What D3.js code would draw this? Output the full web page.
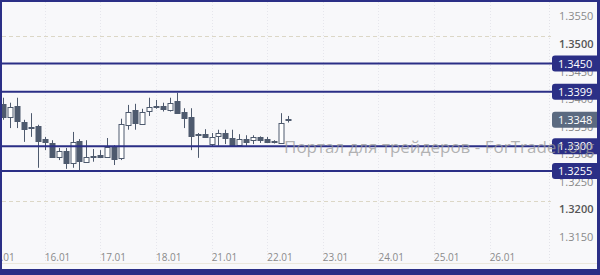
<!DOCTYPE html>
<html>
<head>
<meta charset="utf-8">
<script src="https://cdn.jsdelivr.net/npm/d3@7"></script>
<style>
body { margin: 0; background: #fff; }
svg { display: block; font-family: "Open Sans", sans-serif; }
</style>
</head>
<body>
<svg id="chart" width="600" height="275"></svg>
<script>
// 3h candles, values
const opens  = [1.3377,1.3353,1.3373,1.3344,1.3335,1.3337,1.3313,1.3306,1.3281,1.3291,1.3270,1.3310,1.3272,1.3281,
                1.3284,1.3281,1.3299,1.3278,1.3340,1.3366,1.3342,1.3363,1.3373,1.3373,1.3367,1.3383,1.3362,1.3353,
                1.3322,1.3322,1.3305,1.3318,1.3324,1.3315,1.3302,1.3314,1.3310,1.3316,1.3314,1.3310,1.3306,1.3349];
const highs  = [1.3388,1.3379,1.3388,1.3348,1.3360,1.3339,1.3317,1.3311,1.3297,1.3297,1.3326,1.3313,1.3311,1.3295,
                1.3293,1.3315,1.3302,1.3350,1.3375,1.3377,1.3368,1.3388,1.3384,1.3379,1.3388,1.3397,1.3369,1.3369,
                1.3324,1.3331,1.3324,1.3330,1.3330,1.3330,1.3322,1.3320,1.3320,1.3318,1.3317,1.3311,1.3360,1.3355];
const lows   = [1.3348,1.3333,1.3333,1.3308,1.3317,1.3261,1.3293,1.3279,1.3275,1.3259,1.3261,1.3254,1.3270,1.3272,
                1.3279,1.3279,1.3266,1.3275,1.3330,1.3330,1.3339,1.3355,1.3368,1.3363,1.3363,1.3360,1.3333,1.3293,
                1.3279,1.3315,1.3299,1.3301,1.3304,1.3299,1.3299,1.3301,1.3304,1.3306,1.3306,1.3305,1.3306,1.3343];
const closes = [1.3354,1.3372,1.3346,1.3331,1.3333,1.3310,1.3308,1.3281,1.3291,1.3270,1.3308,1.3274,1.3281,1.3282,
                1.3281,1.3299,1.3278,1.3340,1.3363,1.3343,1.3363,1.3371,1.3371,1.3367,1.3379,1.3361,1.3351,1.3319,
                1.3320,1.3317,1.3317,1.3324,1.3315,1.3301,1.3313,1.3308,1.3316,1.3310,1.3308,1.3308,1.3342,1.3348];

const dayLabels = ["15.01","16.01","17.01","18.01","21.01","22.01","23.01","24.01","25.01","26.01"];
const candlesPerDay = 8;

const levels = [1.3450, 1.3399, 1.3300, 1.3255];
const lastPrice = 1.3348;
const priceTicks = [1.3150, 1.3200, 1.3250, 1.3300, 1.3350, 1.3400, 1.3450, 1.3500, 1.3550];
const majorTicks = [1.3200, 1.3500];
const watermark = "Портал для трейдеров - ForTrader.org";

const W = 600, H = 275;
const plotRight = 549;
const navy = "#2b2f86";
const candleColor = "#4e5a6e";

const svg = d3.select("#chart");

const x = d3.scaleLinear().domain([0, 78]).range([3, 545.1]);
const y = d3.scaleLinear().domain([1.315, 1.355]).range([229, 8.4]);

// фон
svg.append("rect").attr("width", W).attr("height", H).attr("fill", "#f8f8fa");

// vertical grid (faint dotted)
svg.append("g").selectAll("line")
    .data(dayLabels.slice(1))
    .enter().append("line")
    .attr("x1", (d, i) => Math.round(x((i + 1) * candlesPerDay - 2)) + 0.5)
    .attr("x2", (d, i) => Math.round(x((i + 1) * candlesPerDay - 2)) + 0.5)
    .attr("y1", 2).attr("y2", 263)
    .attr("stroke", "#e6e6ec")
    .attr("stroke-dasharray", "1,2");

svg.append("line")
    .attr("x1", plotRight + 0.5).attr("x2", plotRight + 0.5)
    .attr("y1", 2).attr("y2", 263)
    .attr("stroke", "#e2e2e8")
    .attr("stroke-dasharray", "1,2");

// major price grid
svg.append("g").selectAll("line")
    .data(majorTicks)
    .enter().append("line")
    .attr("x1", 2).attr("x2", plotRight + 2)
    .attr("y1", d => Math.round(y(d)) + 0.5)
    .attr("y2", d => Math.round(y(d)) + 0.5)
    .attr("stroke", "#dcd7c6")
    .attr("stroke-dasharray", "4,3");

// bottom line under dates
svg.append("line")
    .attr("x1", 2).attr("x2", W - 3)
    .attr("y1", 263.5).attr("y2", 263.5)
    .attr("stroke", "#ebe7dc");

// price axis labels
svg.append("g").selectAll("text")
    .data(priceTicks)
    .enter().append("text")
    .attr("x", 559)
    .attr("y", d => y(d) + 12)
    .attr("font-size", 11)
    .attr("fill", d => majorTicks.includes(d) ? "#555" : "#8a8a8a")
    .attr("font-weight", d => majorTicks.includes(d) ? 600 : 400)
    .text(d => d.toFixed(4));

// date labels
svg.append("g").selectAll("text")
    .data(dayLabels)
    .enter().append("text")
    .attr("x", (d, i) => x(i * candlesPerDay) - 1)
    .attr("y", 260.5)
    .attr("text-anchor", "middle")
    .attr("font-size", 10)
    .attr("fill", "#8a8a8a")
    .text(d => d);

// candles
const candles = svg.append("g")
    .selectAll("g")
    .data(opens.map((o, i) => ({ i, o, h: highs[i], l: lows[i], c: closes[i] })))
    .enter().append("g");

candles.append("line")
    .attr("x1", d => Math.round(x(d.i)) + 0.5)
    .attr("x2", d => Math.round(x(d.i)) + 0.5)
    .attr("y1", d => y(d.h))
    .attr("y2", d => y(d.l))
    .attr("stroke", candleColor);

candles.append("rect")
    .attr("x", d => Math.round(x(d.i)) - 2)
    .attr("y", d => Math.round(y(Math.max(d.o, d.c))) + 0.5)
    .attr("width", 5)
    .attr("height", d => Math.max(0.5, Math.round(Math.abs(y(d.o) - y(d.c)))))
    .attr("fill", d => d.c > d.o ? "#fff" : candleColor)
    .attr("stroke", candleColor);

// support / resistance levels
svg.append("g").selectAll("line")
    .data(levels)
    .enter().append("line")
    .attr("x1", 0).attr("x2", 553)
    .attr("y1", d => y(d)).attr("y2", d => y(d))
    .attr("stroke", navy)
    .attr("stroke-width", 2);

const levelTag = svg.append("g").selectAll("g")
    .data(levels)
    .enter().append("g")
    .attr("transform", d => `translate(552,${y(d)})`);

levelTag.append("rect")
    .attr("x", 0).attr("y", -8)
    .attr("width", 52).attr("height", 16)
    .attr("rx", 3)
    .attr("fill", navy);

levelTag.append("text")
    .attr("x", 6).attr("y", 4)
    .attr("font-size", 11)
    .attr("fill", "#fff")
    .text(d => d.toFixed(4));

// current price
const lastTag = svg.append("g").attr("transform", `translate(552,${y(lastPrice)})`);
lastTag.append("rect")
    .attr("x", 0).attr("y", -8)
    .attr("width", 52).attr("height", 16)
    .attr("rx", 3)
    .attr("fill", "#5b6a80");
lastTag.append("text")
    .attr("x", 6).attr("y", 4)
    .attr("font-size", 11)
    .attr("fill", "#fff")
    .text(lastPrice.toFixed(4));

// watermark
svg.append("text")
    .attr("x", 284).attr("y", 153)
    .attr("font-size", 17)
    .attr("fill", "#9a9a9a")
    .attr("fill-opacity", 0.75)
    .text(watermark);

// frame
svg.append("rect").attr("x", 0).attr("y", 0).attr("width", W).attr("height", 2).attr("fill", navy);
svg.append("rect").attr("x", 0).attr("y", 0).attr("width", 2).attr("height", H).attr("fill", navy);
svg.append("rect").attr("x", W - 3).attr("y", 0).attr("width", 3).attr("height", H).attr("fill", navy);
svg.append("rect").attr("x", 0).attr("y", 269).attr("width", W).attr("height", 6).attr("fill", navy);
</script>
</body>
</html>
